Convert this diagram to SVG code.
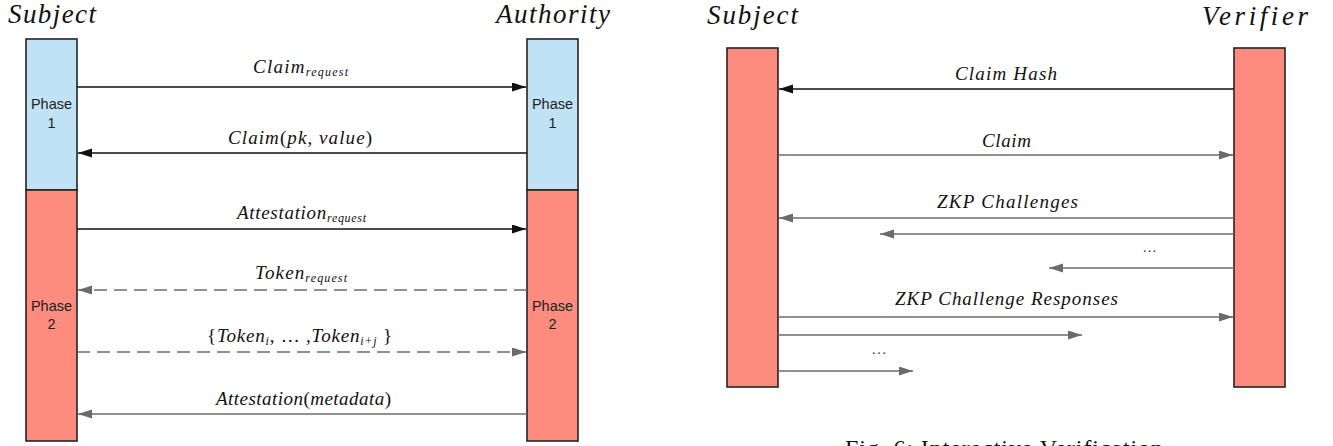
<svg xmlns="http://www.w3.org/2000/svg" width="1333" height="446" viewBox="0 0 1333 446">
  <style>
    .actor { font-family: 'Liberation Serif', 'DejaVu Serif', serif; font-style: italic; font-size: 27px; fill: #111; }
    .phase-blue { fill: #c0e2f5; stroke: #222; stroke-width: 1.6; }
    .phase-red { fill: #fd8b7e; stroke: #222; stroke-width: 1.6; }
    .phase-label { font-family: 'Liberation Sans', Arial, sans-serif; font-size: 14.5px; fill: #222; text-anchor: middle; }
    .msg { font-family: 'Liberation Serif', 'DejaVu Serif', serif; font-style: italic; font-size: 19px; fill: #111; text-anchor: middle; }
    .sub { font-size: 12px; }
    .up { font-style: normal; }
    .dots { font-family: 'Liberation Serif', 'DejaVu Serif', serif; font-size: 14px; fill: #333; }
    .caption { font-family: 'Liberation Serif', 'DejaVu Serif', serif; font-size: 24px; fill: #111; }
    .solid-dark { stroke: #111; stroke-width: 1.6; fill: none; }
    .solid-grey { stroke: #6b6b6b; stroke-width: 1.6; fill: none; }
    .dashed-grey { stroke: #6b6b6b; stroke-width: 1.6; fill: none; stroke-dasharray: 13 7; }
  </style>
  <defs>
    <marker id="head-dark" markerUnits="userSpaceOnUse" markerWidth="15" markerHeight="10" refX="14" refY="4.5" orient="auto">
      <path d="M0,0 L14,4.5 L0,9 Z" fill="#111"/>
    </marker>
    <marker id="head-grey" markerUnits="userSpaceOnUse" markerWidth="15" markerHeight="10" refX="14" refY="4.5" orient="auto">
      <path d="M0,0 L14,4.5 L0,9 Z" fill="#6b6b6b"/>
    </marker>
  </defs>

  <rect width="1333" height="446" fill="#fff"/>

  <!-- Left: attestation exchange -->
  <g id="left-subject">
    <text class="actor" x="8" y="23" textLength="88" lengthAdjust="spacing">Subject</text>
    <rect class="phase-blue" x="26" y="39" width="51" height="151"/>
    <rect class="phase-red" x="26" y="190" width="51" height="251"/>
    <text class="phase-label" x="51.5" y="109">Phase</text>
    <text class="phase-label" x="51.5" y="128">1</text>
    <text class="phase-label" x="51.5" y="311">Phase</text>
    <text class="phase-label" x="51.5" y="329">2</text>
  </g>

  <g id="left-authority">
    <text class="actor" x="496" y="23" textLength="114" lengthAdjust="spacing">Authority</text>
    <rect class="phase-blue" x="527" y="39" width="51" height="151"/>
    <rect class="phase-red" x="527" y="190" width="51" height="251"/>
    <text class="phase-label" x="552.5" y="109">Phase</text>
    <text class="phase-label" x="552.5" y="128">1</text>
    <text class="phase-label" x="552.5" y="311">Phase</text>
    <text class="phase-label" x="552.5" y="329">2</text>
  </g>

  <!-- Right: interactive verification -->
  <g id="right-subject">
    <text class="actor" x="707" y="24" textLength="91" lengthAdjust="spacing">Subject</text>
    <rect class="phase-red" x="727" y="48" width="51" height="339"/>
  </g>

  <g id="right-verifier">
    <text class="actor" x="1202" y="25" textLength="106" lengthAdjust="spacing">Verifier</text>
    <rect class="phase-red" x="1234" y="48" width="51" height="339"/>
  </g>

  <g id="connectors">
    <!-- left exchange -->
    <line class="solid-dark" x1="77" y1="87" x2="526" y2="87" marker-end="url(#head-dark)"/>
    <text class="msg" x="300.5" y="73" textLength="95" lengthAdjust="spacing">Claim<tspan class="sub" dy="3">request</tspan></text>

    <line class="solid-dark" x1="527" y1="153" x2="78" y2="153" marker-end="url(#head-dark)"/>
    <text class="msg" x="300" y="144" textLength="144" lengthAdjust="spacing">Claim<tspan class="up">(</tspan>pk<tspan class="up">, </tspan>value<tspan class="up">)</tspan></text>

    <line class="solid-dark" x1="77" y1="229" x2="526" y2="229" marker-end="url(#head-dark)"/>
    <text class="msg" x="301.5" y="219" textLength="129" lengthAdjust="spacing">Attestation<tspan class="sub" dy="3">request</tspan></text>

    <line class="dashed-grey" x1="527" y1="290" x2="78" y2="290" marker-end="url(#head-grey)"/>
    <text class="msg" x="301" y="279" textLength="92" lengthAdjust="spacing">Token<tspan class="sub" dy="3">request</tspan></text>

    <line class="dashed-grey" x1="77" y1="352" x2="526" y2="352" marker-end="url(#head-grey)"/>
    <text class="msg" x="299.5" y="342" textLength="185" lengthAdjust="spacing"><tspan class="up">{</tspan>Token<tspan class="sub" dy="3">i</tspan><tspan class="up" dy="-3">, … ,</tspan>Token<tspan class="sub" dy="3">i+j</tspan><tspan class="up" dy="-3"> }</tspan></text>

    <line class="solid-grey" x1="527" y1="414" x2="78" y2="414" marker-end="url(#head-grey)"/>
    <text class="msg" x="303.5" y="405" textLength="175" lengthAdjust="spacing">Attestation<tspan class="up">(</tspan>metadata<tspan class="up">)</tspan></text>

    <!-- right exchange -->
    <line class="solid-dark" x1="1234" y1="89" x2="779" y2="89" marker-end="url(#head-dark)"/>
    <text class="msg" x="1006" y="80" textLength="102" lengthAdjust="spacing">Claim Hash</text>

    <line class="solid-grey" x1="778" y1="155" x2="1233" y2="155" marker-end="url(#head-grey)"/>
    <text class="msg" x="1006.5" y="147" textLength="49" lengthAdjust="spacing">Claim</text>

    <line class="solid-grey" x1="1234" y1="218" x2="779" y2="218" marker-end="url(#head-grey)"/>
    <text class="msg" x="1007.5" y="208" textLength="141" lengthAdjust="spacing">ZKP Challenges</text>
    <line class="solid-grey" x1="1234" y1="234" x2="880" y2="234" marker-end="url(#head-grey)"/>
    <text class="dots" x="1143" y="252" textLength="13" lengthAdjust="spacing">...</text>
    <line class="solid-grey" x1="1234" y1="268" x2="1049" y2="268" marker-end="url(#head-grey)"/>

    <line class="solid-grey" x1="778" y1="317" x2="1233" y2="317" marker-end="url(#head-grey)"/>
    <text class="msg" x="1006.5" y="305" textLength="223" lengthAdjust="spacing">ZKP Challenge Responses</text>
    <line class="solid-grey" x1="778" y1="335" x2="1082" y2="335" marker-end="url(#head-grey)"/>
    <text class="dots" x="872" y="354" textLength="14" lengthAdjust="spacing">...</text>
    <line class="solid-grey" x1="778" y1="371" x2="913" y2="371" marker-end="url(#head-grey)"/>
  </g>

  <text class="caption" x="845" y="456" textLength="318" lengthAdjust="spacing">Fig. 6: Interactive Verification</text>
</svg>
